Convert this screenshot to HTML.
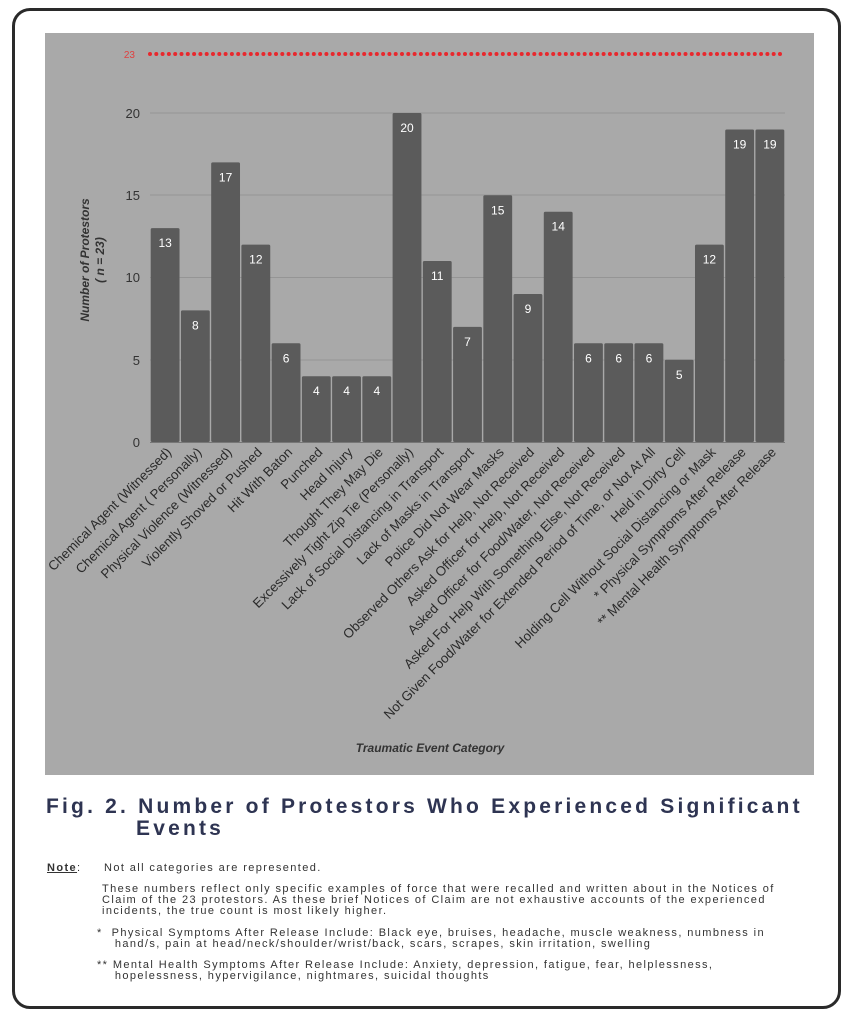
<!DOCTYPE html>
<html><head><meta charset="utf-8"><style>
body{margin:0;width:852px;height:1024px;background:#fff;position:relative;font-family:"Liberation Sans",sans-serif;overflow:hidden}
.frame{position:absolute;left:12px;top:8px;width:829px;height:1001px;border:3px solid #2a2a2a;border-radius:18px;box-sizing:border-box}
svg{position:absolute;left:0;top:0}
.t{position:absolute;color:#2e3452;font-weight:bold;font-size:21px;letter-spacing:3.2px}
.n{position:absolute;font-size:11px;letter-spacing:1.4px;color:#333;line-height:11px}
</style></head><body>
<div class="frame"></div>
<svg width="852" height="1024" font-family="Liberation Sans, sans-serif">
<rect x="45" y="33" width="769" height="742" fill="#a9a9a9"/>
<g stroke="#959595" stroke-width="1">
<line x1="150" x2="785" y1="360" y2="360"/><line x1="150" x2="785" y1="277.5" y2="277.5"/>
<line x1="150" x2="785" y1="195" y2="195"/><line x1="150" x2="785" y1="113" y2="113"/>
</g>
<line x1="150" x2="785" y1="54" y2="54" stroke="#e8282d" stroke-width="4" stroke-dasharray="0 6.3" stroke-linecap="round"/>
<text x="135" y="58" font-size="10" fill="#e04040" text-anchor="end">23</text>
<g font-size="13" fill="#333" text-anchor="end">
<text x="140" y="447">0</text><text x="140" y="365">5</text><text x="140" y="282">10</text><text x="140" y="200">15</text><text x="140" y="118">20</text>
</g>
<g font-size="12" font-style="italic" font-weight="bold" fill="#333" text-anchor="middle">
<text transform="translate(89,260) rotate(-90)">Number of Protestors</text>
<text transform="translate(104,260) rotate(-90)">( n = 23)</text>
<text x="430" y="752">Traumatic Event Category</text>
</g>
<g id="bars"></g>
<g id="labels" font-size="13.3" fill="#2a2a2a" text-anchor="end"></g>
</svg>
<div class="t" style="left:46px;top:795px">Fig. 2. Number of Protestors Who Experienced Significant</div>
<div class="t" style="left:136px;top:817px">Events</div>
<div class="n" style="left:47px;top:863px;font-weight:bold;text-decoration:underline">Note</div><div class="n" style="left:77px;top:863px">:</div>
<div class="n" style="left:104px;top:863px">Not all categories are represented.</div>
<div class="n" style="left:102px;top:884px">These numbers reflect only specific examples of force that were recalled and written about in the Notices of<br>Claim of the 23 protestors. As these brief Notices of Claim are not exhaustive accounts of the experienced<br>incidents, the true count is most likely higher.</div>
<div class="n" style="left:97px;top:928px">*&nbsp; Physical Symptoms After Release Include: Black eye, bruises, headache, muscle weakness, numbness in<br>&nbsp;&nbsp;&nbsp;&nbsp;hand/s, pain at head/neck/shoulder/wrist/back, scars, scrapes, skin irritation, swelling</div>
<div class="n" style="left:97px;top:960px">** Mental Health Symptoms After Release Include: Anxiety, depression, fatigue, fear, helplessness,<br>&nbsp;&nbsp;&nbsp;&nbsp;hopelessness, hypervigilance, nightmares, suicidal thoughts</div>
<script>
var v=[13,8,17,12,6,4,4,4,20,11,7,15,9,14,6,6,6,5,12,19,19];
var L=["Chemical Agent (Witnessed)","Chemical Agent ( Personally)","Physical Violence (Witnessed)","Violently Shoved or Pushed","Hit With Baton","Punched","Head Injury","Thought They May Die","Excessively Tight Zip Tie (Personally)","Lack of Social Distancing in Transport","Lack of Masks in Transport","Police Did Not Wear Masks","Observed Others Ask for Help, Not Received","Asked Officer for Help, Not Received","Asked Officer for Food/Water, Not Received","Asked For Help With Something Else, Not Received","Not Given Food/Water for Extended Period of Time, or Not At All","Held in Dirty Cell","Holding Cell Without Social Distancing or Mask","* Physical Symptoms After Release","** Mental Health Symptoms After Release"];
var ns="http://www.w3.org/2000/svg",b=document.getElementById("bars"),lg=document.getElementById("labels");
var slot=(785-150)/21;
for(var i=0;i<21;i++){var x=150+i*slot,h=v[i]*16.45,y=442-h;
var r=document.createElementNS(ns,"rect");r.setAttribute("x",x+0.7);r.setAttribute("y",y);r.setAttribute("width",slot-1.4);r.setAttribute("height",h);r.setAttribute("rx",1.5);r.setAttribute("fill","#5b5b5b");b.appendChild(r);
var t=document.createElementNS(ns,"text");t.setAttribute("x",x+slot/2);t.setAttribute("y",y+19);t.setAttribute("fill","#fff");t.setAttribute("font-size","12");t.setAttribute("text-anchor","middle");t.textContent=v[i];b.appendChild(t);
var l=document.createElementNS(ns,"text");l.setAttribute("transform","translate("+(x+slot/2+7)+",453) rotate(-45)");l.textContent=L[i];lg.appendChild(l);}
var base=document.createElementNS(ns,"line");base.setAttribute("x1",150);base.setAttribute("x2",785);base.setAttribute("y1",442.5);base.setAttribute("y2",442.5);base.setAttribute("stroke","#777");b.appendChild(base);
</script>
</body></html>
